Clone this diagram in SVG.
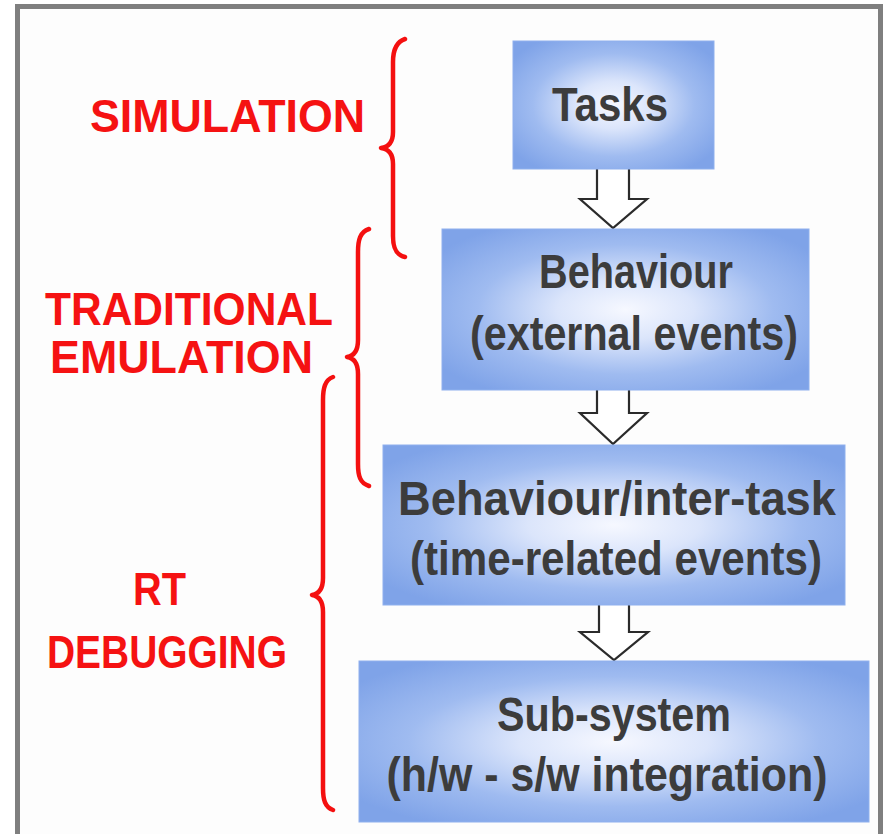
<svg xmlns="http://www.w3.org/2000/svg" width="883" height="834" viewBox="0 0 883 834">
  <defs>
    <radialGradient id="boxFill" cx="0.5" cy="0.5" r="0.62">
      <stop offset="0" stop-color="#f6f8ff"/>
      <stop offset="0.3" stop-color="#dbe5fb"/>
      <stop offset="0.65" stop-color="#9fbbf0"/>
      <stop offset="1" stop-color="#7fa3e8"/>
    </radialGradient>
    <style>
      .box { fill: url(#boxFill); stroke: #8fb0ee; stroke-width: 1; }
      .btxt { font-family: "Liberation Sans", "Noto Sans", sans-serif; font-weight: bold; font-size: 48px; fill: #3c3c3c; text-anchor: middle; }
      .lbl { font-family: "Liberation Sans", "Noto Sans", sans-serif; font-weight: bold; font-size: 47px; fill: #f51212; }
      .brace { fill: none; stroke: #f41010; stroke-width: 4.5; stroke-linecap: round; stroke-linejoin: round; }
      .arrow { fill: #ffffff; stroke: #2b2b2b; stroke-width: 2.2; stroke-linejoin: miter; }
    </style>
  </defs>

  <!-- page and frame -->
  <rect x="0" y="0" width="883" height="834" fill="#ffffff"/>
  <rect x="17.5" y="6.5" width="863" height="900" fill="#fdfdfd" stroke="#7f7f7f" stroke-width="5"/>

  <!-- block arrows between the stages -->
  <g id="connectors">
    <path class="arrow" d="M597,166 L597,199 L580,199 L613,228 L647,199 L629,199 L629,166"/>
    <path class="arrow" d="M597,387 L597,413 L580,413 L613,444 L647,413 L629,413 L629,387"/>
    <path class="arrow" d="M599,602 L599,632 L580,632 L614,660 L648,632 L629,632 L629,602"/>
  </g>

  <!-- stage boxes -->
  <g id="node-tasks">
    <rect class="box" x="513" y="41" width="201" height="128"/>
    <text class="btxt" x="610" y="121" textLength="116" lengthAdjust="spacingAndGlyphs">Tasks</text>
  </g>
  <g id="node-behaviour">
    <rect class="box" x="442" y="229" width="367" height="161"/>
    <text class="btxt" x="636" y="288" textLength="194" lengthAdjust="spacingAndGlyphs">Behaviour</text>
    <text class="btxt" x="634" y="350" textLength="328" lengthAdjust="spacingAndGlyphs">(external events)</text>
  </g>
  <g id="node-intertask">
    <rect class="box" x="383" y="445" width="462" height="160"/>
    <text class="btxt" x="617" y="515" textLength="438" lengthAdjust="spacingAndGlyphs">Behaviour/inter-task</text>
    <text class="btxt" x="616" y="575" textLength="412" lengthAdjust="spacingAndGlyphs">(time-related events)</text>
  </g>
  <g id="node-subsystem">
    <rect class="box" x="359" y="661" width="510" height="161"/>
    <text class="btxt" x="614" y="731" textLength="234" lengthAdjust="spacingAndGlyphs">Sub-system</text>
    <text class="btxt" x="607" y="791" textLength="441" lengthAdjust="spacingAndGlyphs">(h/w - s/w integration)</text>
  </g>

  <!-- phase brackets -->
  <g id="bracket-simulation">
    <path class="brace" d="M405,39 C396,42 393,50 393,62 L393,132 C393,142 389,147 381,148 C389,149 393,154 393,164 L393,236 C393,248 396,255 405,257"/>
    <text class="lbl" x="90" y="132" textLength="275" lengthAdjust="spacingAndGlyphs">SIMULATION</text>
  </g>
  <g id="bracket-emulation">
    <path class="brace" d="M369,229 C360,232 358,240 358,252 L358,340 C358,350 354,356 347,357 C354,358 358,364 358,374 L358,464 C358,476 360,483 369,486"/>
    <text class="lbl" x="45" y="325" textLength="288" lengthAdjust="spacingAndGlyphs">TRADITIONAL</text>
    <text class="lbl" x="50" y="373" textLength="263" lengthAdjust="spacingAndGlyphs">EMULATION</text>
  </g>
  <g id="bracket-debugging">
    <path class="brace" d="M333,377 C325,380 323,388 323,400 L323,578 C323,588 319,594 312,595 C319,596 323,602 323,612 L323,788 C323,800 325,807 333,810"/>
    <text class="lbl" x="133" y="605" textLength="53" lengthAdjust="spacingAndGlyphs">RT</text>
    <text class="lbl" x="47" y="668" textLength="240" lengthAdjust="spacingAndGlyphs">DEBUGGING</text>
  </g>
</svg>
